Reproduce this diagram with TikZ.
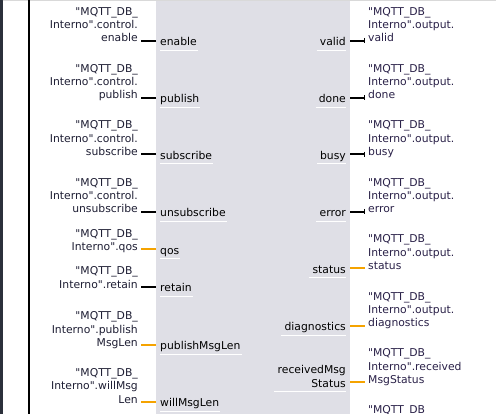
\documentclass[tikz,border=0pt]{standalone}
\usepackage{fontspec}
\usetikzlibrary{arrows.meta}
\newfontfamily\tiafont[Ligatures=TeXOff]{DejaVu Sans}
\definecolor{tiagray}{HTML}{DFDFE6}
\definecolor{tiaorange}{HTML}{F5A300}
\definecolor{tiastrip}{HTML}{2B303B}
\definecolor{tiain}{HTML}{1E1E34}
\definecolor{tiaout}{HTML}{2A2148}
\newcommand{\rstack}[1]{\begin{tabular}[b]{@{}r@{}}#1\end{tabular}}
\newcommand{\lstack}[1]{\begin{tabular}[b]{@{}l@{}}#1\end{tabular}}
\tikzset{
  every node/.style={font=\tiafont\fontsize{10.8}{13.3}\selectfont},
  inlab/.style={anchor=base east,inner xsep=3pt,inner ysep=0pt,text=tiain},
  outlab/.style={anchor=base west,inner xsep=3pt,inner ysep=0pt,text=tiaout},
  pinbox/.style={inner xsep=4pt,inner ysep=4.3pt,text height=10pt,text depth=0pt},
  pinl/.style={pinbox,anchor=west},
  pinr/.style={pinbox,anchor=east},
  bwire/.style={line width=2pt},
  owire/.style={line width=2pt,tiaorange},
  tick/.style={-{Bar[width=5.5pt,line width=1.5pt]}},
  uline/.style={white,line width=1pt}
}
\begin{document}
\begin{tikzpicture}[x=1pt,y=-1pt]
\useasboundingbox (0,0) rectangle (496,414);
\clip (0,0) rectangle (496,414);
\fill[white] (0,0) rectangle (496,414);
\fill[tiagray] (156,0) rectangle (350,414);
\fill[tiastrip] (0,0) rectangle (2.5,414);
\draw[black!15] (2.5,0.5) -- (496,0.5);
\draw[line width=2pt] (29,0) -- (29,414);

\node[pinl] (enable) at (156,40.7) {enable};
\node[pinl] (publish) at (156,97.7) {publish};
\node[pinl] (subscribe) at (156,154.3) {subscribe};
\node[pinl] (unsubscribe) at (156,211.7) {unsubscribe};
\node[pinl] (qos) at (156,249.3) {qos};
\node[pinl] (retain) at (156,287) {retain};
\node[pinl] (publishMsgLen) at (156,345) {publishMsgLen};
\node[pinl] (willMsgLen) at (156,401.7) {willMsgLen};

\node[inlab] (enableIn) at (141,42) {\rstack{"MQTT\_DB\_\\Interno".control.\\enable}};
\node[inlab] (publishIn) at (141,99) {\rstack{"MQTT\_DB\_\\Interno".control.\\publish}};
\node[inlab] (subscribeIn) at (141,155.6) {\rstack{"MQTT\_DB\_\\Interno".control.\\subscribe}};
\node[inlab] (unsubscribeIn) at (141,213) {\rstack{"MQTT\_DB\_\\Interno".control.\\unsubscribe}};
\node[inlab] (qosIn) at (141,250.6) {\rstack{"MQTT\_DB\_\\Interno".qos}};
\node[inlab] (retainIn) at (141,288.3) {\rstack{"MQTT\_DB\_\\Interno".retain}};
\node[inlab] (publishMsgLenIn) at (141,346.3) {\rstack{"MQTT\_DB\_\\Interno".publish\\MsgLen}};
\node[inlab] (willMsgLenIn) at (141,403) {\rstack{"MQTT\_DB\_\\Interno".willMsg\\Len}};

\node[pinr] (valid) at (350,40.7) {valid};
\node[pinr] (done) at (350,97.7) {done};
\node[pinr] (busy) at (350,154.3) {busy};
\node[pinr] (error) at (350,211.7) {error};
\node[pinr] (status) at (350,268.3) {status};
\node[pinr] (diagnostics) at (350,325.7) {diagnostics};
\node[pinr] (receivedMsgStatus) at (350,382.3) {\rstack{receivedMsg\\Status}};

\node[outlab] (validOut) at (365,42) {\lstack{"MQTT\_DB\_\\Interno".output.\\valid}};
\node[outlab] (doneOut) at (365,99) {\lstack{"MQTT\_DB\_\\Interno".output.\\done}};
\node[outlab] (busyOut) at (365,155.6) {\lstack{"MQTT\_DB\_\\Interno".output.\\busy}};
\node[outlab] (errorOut) at (365,213) {\lstack{"MQTT\_DB\_\\Interno".output.\\error}};
\node[outlab] (statusOut) at (365,269.6) {\lstack{"MQTT\_DB\_\\Interno".output.\\status}};
\node[outlab] (diagnosticsOut) at (365,327) {\lstack{"MQTT\_DB\_\\Interno".output.\\diagnostics}};
\node[outlab] (receivedMsgStatusOut) at (365,383.6) {\lstack{"MQTT\_DB\_\\Interno".received\\MsgStatus}};
\node[outlab] (nextOut) at (365,413.7) {"MQTT\_DB\_};

\foreach \p in {enable,publish,subscribe,unsubscribe,retain}
  \draw[bwire] (\p.west) -- (\p In.east |- \p.west);
\foreach \p in {qos,publishMsgLen,willMsgLen}
  \draw[owire] (\p.west) -- (\p In.east |- \p.west);
\foreach \p in {valid,done,busy,error}
  \draw[bwire,tick] (\p.east) -- (\p Out.west |- \p.east);
\foreach \p in {status,diagnostics,receivedMsgStatus}
  \draw[owire] (\p.east) -- (\p Out.west |- \p.east);

\foreach \p in {enable,publish,subscribe,unsubscribe,qos,retain,publishMsgLen,willMsgLen}
  \draw[uline] ([xshift=4pt]\p.south west) -- ([xshift=-3pt]\p.south east);
\foreach \p in {valid,done,busy,error,status,diagnostics,receivedMsgStatus}
  \draw[uline] ([xshift=1pt]\p.south west) -- ([xshift=-4pt]\p.south east);
\end{tikzpicture}
\end{document}
